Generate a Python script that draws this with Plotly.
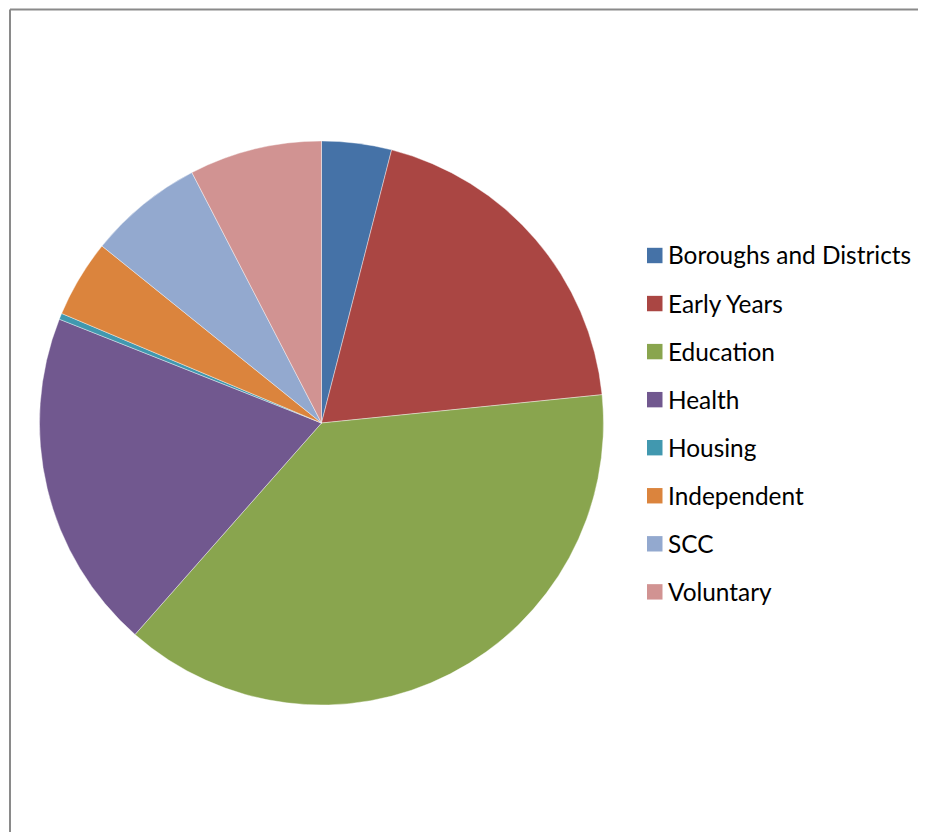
import plotly.graph_objects as go

categories = ["Boroughs and Districts", "Early Years", "Education", "Health",
              "Housing", "Independent", "SCC", "Voluntary"]
values = [4.0, 19.4, 38.1, 19.5, 0.35, 4.45, 6.6, 7.6]
colors = ["#4572A7", "#AA4643", "#89A54E", "#71588F",
          "#4198AF", "#DB843D", "#93A9CF", "#D19392"]

OFF = 8  # page body margin
W, H = 926 - OFF, 832 - OFF


def px(x):
    return (x - OFF) / W


def py(y):
    return 1 - (y - OFF) / H


cx, cy, r = 321.5, 423.0, 282.0

fig = go.Figure(go.Pie(
    labels=categories,
    values=values,
    sort=False,
    direction="clockwise",
    rotation=0,
    textinfo="none",
    hoverinfo="label+percent",
    marker=dict(colors=colors, line=dict(color="rgba(255,255,255,0.5)", width=0.8)),
    domain=dict(x=[px(cx - r), px(cx + r)], y=[py(cy + r), py(cy - r)]),
    showlegend=False,
))

shapes = [
    dict(type="line", xref="paper", yref="paper", x0=px(10), x1=1.02, y0=py(9.5), y1=py(9.5),
         line=dict(color="#8a8a8a", width=2)),
    dict(type="line", xref="paper", yref="paper", x0=px(10), x1=px(10), y0=py(9.5), y1=-0.02,
         line=dict(color="#8a8a8a", width=2)),
]
annotations = []
y0, dy = 255.5, 48.05
for i, (cat, col) in enumerate(zip(categories, colors)):
    yc = y0 + i * dy
    shapes.append(dict(type="rect", xref="paper", yref="paper",
                       x0=px(647), x1=px(662.5), y0=py(yc + 7.7), y1=py(yc - 7.7),
                       fillcolor=col, line=dict(width=0)))
    annotations.append(dict(x=px(666), y=py(yc - 0.5), xref="paper", yref="paper",
                            text=cat, showarrow=False, xanchor="left", yanchor="middle",
                            font=dict(family="Lato", size=24.4, color="#000000")))

fig.update_layout(
    width=W, height=H,
    margin=dict(l=0, r=0, t=0, b=0),
    paper_bgcolor="white", plot_bgcolor="white",
    shapes=shapes, annotations=annotations,
)

fig.write_html("out.html")
